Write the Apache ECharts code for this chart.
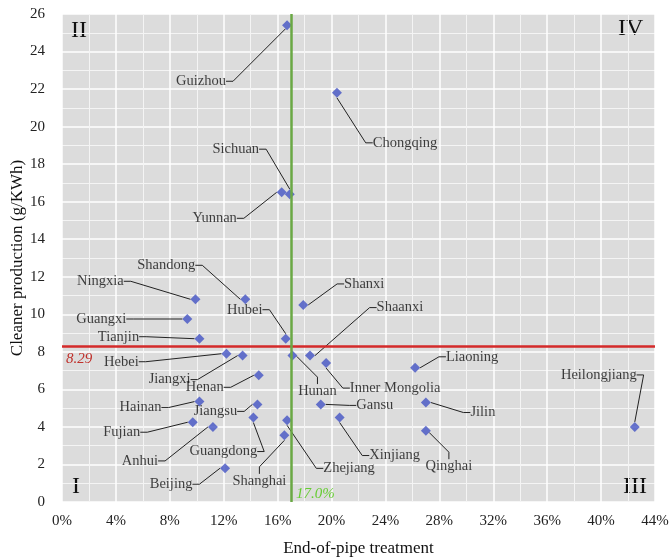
<!DOCTYPE html>
<html>
<head>
<meta charset="utf-8">
<script src="https://cdn.jsdelivr.net/npm/echarts@6/dist/echarts.min.js"></script>
<style>
  html, body { margin: 0; padding: 0; background: #fff; }
  #chart { width: 670px; height: 557px; }
</style>
</head>
<body>
<div id="chart"></div>
<script>
  // provinces, x = end-of-pipe treatment (%), y = cleaner production (g/KWh)
  var provinces = ['Guizhou', 'Chongqing', 'Sichuan', 'Yunnan', 'Shandong', 'Ningxia', 'Shanxi',
    'Guangxi', 'Hubei', 'Shaanxi', 'Tianjin', 'Hebei', 'Jiangxi', 'Henan', 'Hunan', 'Inner Mongolia',
    'Gansu', 'Hainan', 'Jiangsu', 'Liaoning', 'Jilin', 'Heilongjiang', 'Fujian', 'Anhui',
    'Guangdong', 'Beijing', 'Shanghai', 'Zhejiang', 'Xinjiang', 'Qinghai'];
  var endOfPipe = [16.7, 20.4, 16.9, 16.3, 13.6, 9.9, 17.9,
    9.3, 16.6, 18.4, 10.2, 12.2, 13.4, 14.6, 17.1, 19.6,
    19.2, 10.2, 14.5, 26.2, 27.0, 42.5, 9.7, 11.2,
    14.2, 12.1, 16.5, 16.7, 20.6, 27.0];
  var cleanerProd = [25.4, 21.8, 16.4, 16.5, 10.8, 10.8, 10.5,
    9.75, 8.7, 7.8, 8.7, 7.9, 7.8, 6.75, 7.8, 7.4,
    5.2, 5.35, 5.2, 7.15, 5.3, 4.0, 4.25, 4.0,
    4.5, 1.8, 3.55, 4.35, 4.5, 3.8];
  var cpMean = 8.29;
  var eopMean = 17.0;
  var xTicks = { min: 0, max: 44, step: 4 };
  var yTicks = { min: 0, max: 26, step: 2 };

  // label offsets from the marker (pixels), layout only
  var labelOffsets = [[-86, 56], [68, 50], [-54, -45], [-67, 26], [-79, -34], [-95, -18], [61, -21],
    [-86, 0], [-41, -29], [90, -48], [-81, -2], [-105, 8], [-73, 24], [-54, 12], [25, 36], [69, 25],
    [54, 1], [-59, 6], [-42, 7], [57, -11], [57, 10], [-36, -52], [-71, 10], [-73, 34],
    [-30, 34], [-54, 16], [-25, 46], [62, 48], [55, 38], [23, 36]];

  var serif = 'Liberation Serif';
  var points = [];
  for (var i = 0; i < provinces.length; i++) {
    points.push({ name: provinces[i], value: [endOfPipe[i], cleanerProd[i]] });
  }

  var chart = echarts.init(document.getElementById('chart'));
  chart.setOption({
    animation: false,
    grid: { left: 62, right: 15, top: 14, bottom: 55, outerBoundsMode: 'none', containLabel: false,
      show: true, backgroundColor: '#dcdcdc', borderWidth: 0 },
    xAxis: {
      type: 'value', min: xTicks.min, max: xTicks.max, interval: xTicks.step,
      name: 'End-of-pipe treatment', nameLocation: 'middle', nameGap: 38, nameMoveOverlap: false,
      nameTextStyle: { fontFamily: serif, fontSize: 17, color: '#111' },
      axisLine: { show: false }, axisTick: { show: false },
      axisLabel: { formatter: '{value}%', fontFamily: serif, fontSize: 15, color: '#222', margin: 12 },
      splitLine: { lineStyle: { color: '#fff', width: 1.5 } },
      minorTick: { show: false, splitNumber: 2 },
      minorSplitLine: { show: true, lineStyle: { color: '#f4f4f4', width: 1 } }
    },
    yAxis: {
      type: 'value', min: yTicks.min, max: yTicks.max, interval: yTicks.step,
      name: 'Cleaner production (g/KWh)', nameLocation: 'middle', nameGap: 36, nameMoveOverlap: false,
      nameTextStyle: { fontFamily: serif, fontSize: 17, color: '#111' },
      axisLine: { show: false }, axisTick: { show: false },
      axisLabel: { fontFamily: serif, fontSize: 15, color: '#222', margin: 17 },
      splitLine: { lineStyle: { color: '#fff', width: 1.5 } },
      minorTick: { show: false, splitNumber: 2 },
      minorSplitLine: { show: true, lineStyle: { color: '#f4f4f4', width: 1 } }
    },
    graphic: [
      { type: 'text', left: 71, top: 19, style: { text: 'II', font: '24px ' + serif, fill: '#111' } },
      { type: 'text', left: 618, top: 17, style: { text: 'IV', font: '24px ' + serif, fill: '#111' } },
      { type: 'text', left: 72, top: 475, style: { text: 'I', font: '24px ' + serif, fill: '#111' } },
      { type: 'text', left: 623, top: 475, style: { text: 'III', font: '24px ' + serif, fill: '#111' } }
    ],
    series: [
      {
        type: 'scatter', data: [], z: 1, silent: true,
        markLine: {
          symbol: 'none', silent: true, label: { show: false },
          data: [
            { yAxis: cpMean, lineStyle: { color: '#d42a2a', width: 2.5, type: 'solid' } },
            { xAxis: eopMean, lineStyle: { color: '#6aa844', width: 2.5, type: 'solid' } }
          ]
        },
        markPoint: {
          symbolSize: 0, silent: true,
          data: [
            { coord: [xTicks.min, cpMean], value: cpMean,
              label: { show: true, position: 'right', distance: 4, offset: [0, 13], formatter: String(cpMean),
                fontFamily: serif, fontStyle: 'italic', fontSize: 15, color: '#c0302b' } },
            { coord: [eopMean, yTicks.min], value: eopMean,
              label: { show: true, position: 'right', distance: 5, offset: [0, -8], formatter: eopMean.toFixed(1) + '%',
                fontFamily: serif, fontStyle: 'italic', fontSize: 15, color: '#66cc33' } }
          ]
        }
      },
      {
        type: 'scatter', z: 3,
        symbol: 'diamond', symbolSize: 10,
        itemStyle: { color: '#4454c4' },
        data: points,
        label: { show: true, formatter: '{b}', fontFamily: serif, fontSize: 14.5, color: '#111' },
        labelLine: { show: true, length2: 7, lineStyle: { color: '#222', width: 1 } },
        labelLayout: function (params) {
          var off = labelOffsets[params.dataIndex];
          var cx = params.rect.x + params.rect.width / 2;
          var cy = params.rect.y + params.rect.height / 2;
          return { x: cx + off[0], y: cy + off[1], align: 'center', verticalAlign: 'middle' };
        }
      }
    ]
  });
</script>
</body>
</html>
